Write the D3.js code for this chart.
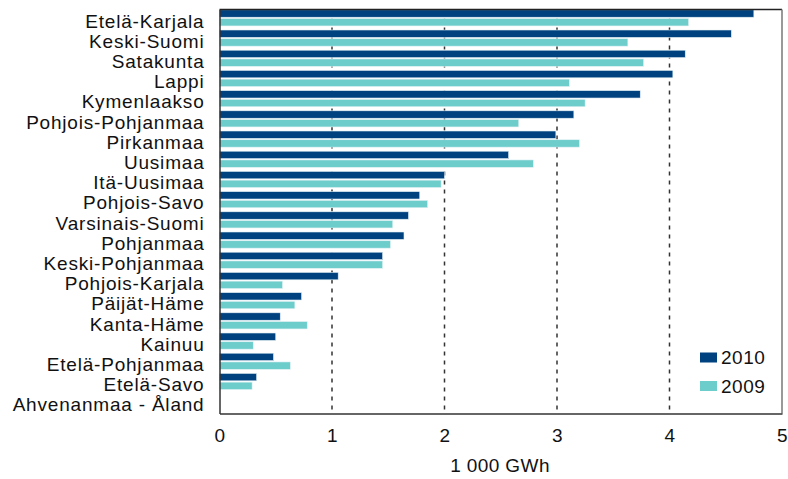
<!DOCTYPE html>
<html>
<head>
<meta charset="utf-8">
<script src="https://cdn.jsdelivr.net/npm/d3@7"></script>
<style>
  html, body { margin: 0; padding: 0; background: #ffffff; }
  text { font-family: "Liberation Sans", Arial, sans-serif; fill: #111; }
</style>
</head>
<body>
<svg id="chart" width="788" height="479"></svg>
<script>
const categories = ["Etelä-Karjala","Keski-Suomi","Satakunta","Lappi","Kymenlaakso","Pohjois-Pohjanmaa","Pirkanmaa","Uusimaa","Itä-Uusimaa","Pohjois-Savo","Varsinais-Suomi","Pohjanmaa","Keski-Pohjanmaa","Pohjois-Karjala","Päijät-Häme","Kanta-Häme","Kainuu","Etelä-Pohjanmaa","Etelä-Savo","Ahvenanmaa - Åland"];
const values2010 = [4.75,4.55,4.14,4.03,3.74,3.15,2.99,2.57,2.00,1.78,1.68,1.64,1.45,1.055,0.73,0.54,0.50,0.48,0.33,0];
const values2009 = [4.17,3.63,3.77,3.11,3.25,2.66,3.20,2.79,1.97,1.85,1.54,1.52,1.45,0.56,0.67,0.78,0.30,0.63,0.29,0];
const seriesNames = ["2010","2009"];
const seriesColors = ["#00427f","#6dcdcb"];
const xTicks = [0,1,2,3,4,5];
const xTitle = "1 000 GWh";

(function () {
const svg = d3.select("#chart");
const mLeft = 219.5, mRight = 782, mTop = 9.5, mBottom = 413.5;

const x = d3.scaleLinear().domain([0,5]).range([mLeft,mRight]);
const y = d3.scaleBand().domain(categories).range([mTop,mBottom]).padding(0);
const ySub = d3.scaleBand().domain(seriesNames).range([0, y.bandwidth()*0.8]).paddingInner(0.15);

// gridlines
svg.append("g").selectAll("line").data(xTicks.filter(t => t>0 && t<5)).join("line")
  .attr("x1", d => x(d)).attr("x2", d => x(d))
  .attr("y1", mTop).attr("y2", mBottom)
  .attr("stroke", "#333").attr("stroke-width", 1.5).attr("stroke-dasharray", "4,5");

// bars
const seriesData = [values2010, values2009];
seriesNames.forEach((s, si) => {
  svg.append("g").selectAll("rect").data(categories).join("rect")
    .attr("x", x(0))
    .attr("y", c => y(c) + ySub(s) + 0.3)
    .attr("width", (c, i) => x(seriesData[si][i]) - x(0))
    .attr("height", ySub.bandwidth())
    .attr("fill", seriesColors[si])
    .attr("stroke", "#e4f2f6").attr("stroke-width", 0.6);
});

// frame
svg.append("line").attr("x1", mLeft).attr("x2", mRight).attr("y1", mTop).attr("y2", mTop).attr("stroke", "#222").attr("stroke-width", 1.5);
svg.append("line").attr("x1", mRight).attr("x2", mRight).attr("y1", mTop).attr("y2", mBottom).attr("stroke", "#777").attr("stroke-width", 1.5);

// x axis
const xAxis = svg.append("g").attr("transform", `translate(0,${mBottom})`)
  .call(d3.axisBottom(x).tickValues(xTicks).tickFormat(d3.format("d")).tickSize(0).tickPadding(15));
xAxis.select(".domain").attr("stroke", "#333").attr("stroke-width", 1.5);
xAxis.selectAll("text").style("font-size", "19px").style("letter-spacing", "0.3px").attr("fill", "#111");

// y axis
const yAxis = svg.append("g").attr("transform", `translate(${mLeft},0)`)
  .call(d3.axisLeft(y).tickSize(0).tickPadding(15));
yAxis.select(".domain").attr("stroke", "#333").attr("stroke-width", 1.5);
yAxis.selectAll("text").style("font-size", "19px").style("letter-spacing", "0.8px").attr("dy", "0.42em").attr("fill", "#111");

// x title
svg.append("text").attr("x", 500).attr("y", 472).attr("text-anchor", "middle")
  .style("font-size", "19px").style("letter-spacing", "0.4px").text(xTitle);

// legend
const legend = svg.append("g");
seriesNames.forEach((s, i) => {
  const ly = 352.5 + i*28.5;
  legend.append("rect").attr("x", 700).attr("y", ly).attr("width", 17).attr("height", 10).attr("fill", seriesColors[i]);
  legend.append("text").attr("x", 721).attr("y", ly + 5).attr("dy", "0.36em")
    .style("font-size", "19px").style("letter-spacing", "0.5px").text(s);
});
})();
</script>
</body>
</html>
